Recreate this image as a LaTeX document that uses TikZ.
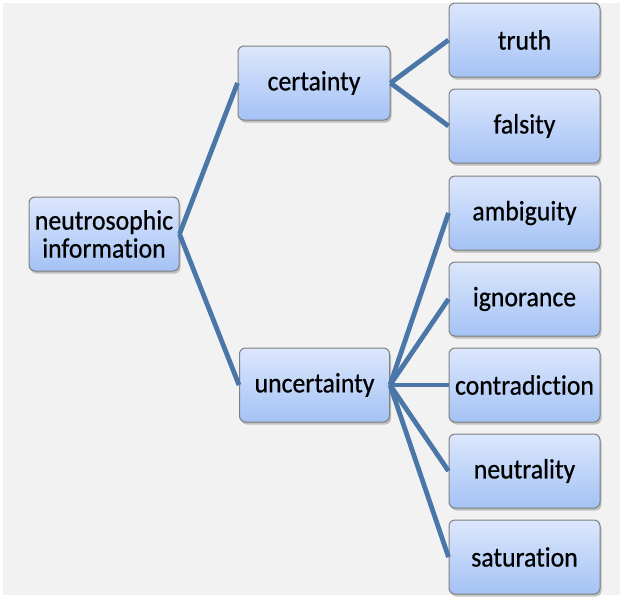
\documentclass[tikz,border=0pt]{standalone}
\usepackage{fontspec}
\setmainfont[FakeStretch=0.92, FakeBold=0.6, Ligatures=NoCommon]{Carlito}
\usetikzlibrary{shadows}
\definecolor{bg}{HTML}{F2F2F2}
\definecolor{boxtop}{HTML}{DCE7FC}
\definecolor{boxbot}{HTML}{A4C2F5}
\definecolor{boxline}{HTML}{7F7F7F}
\definecolor{conn}{HTML}{4A76A8}
\tikzset{
  box/.style={draw=boxline, line width=1pt, rounded corners=6pt,
    top color=boxtop, bottom color=boxbot, inner sep=0pt,
    minimum width=151pt, minimum height=74pt, align=center,
    font=\fontsize{28}{28}\selectfont,
    drop shadow={shadow xshift=1.5pt, shadow yshift=-2.5pt, fill=black!45, opacity=0.5}},
  link/.style={draw=conn, line width=4.8pt}
}
\begin{document}
\begin{tikzpicture}[x=1pt,y=-1pt]
\useasboundingbox (0,0) rectangle (620,598);
\fill[bg] (3,3) rectangle (620,595);
\node[box, minimum width=150pt] (root) at (104,234) {neutrosophic\\information};
\node[box, minimum width=152pt] (cert) at (314,83) {certainty};
\node[box, minimum width=150pt] (unc) at (314.5,385) {uncertainty};
\node[box] (truth) at (524.5,40) {truth};
\node[box] (fals) at (524.5,126) {falsity};
\node[box] (amb) at (524.5,213) {ambiguity};
\node[box] (ign) at (524.5,299) {ignorance};
\node[box] (contr) at (524.5,385) {contradiction};
\node[box] (neut) at (524.5,471) {neutrality};
\node[box] (sat) at (524.5,557) {saturation};
\draw[link] (root.east) -- (cert.west);
\draw[link] (root.east) -- (unc.west);
\draw[link] (cert.east) -- (truth.west);
\draw[link] (cert.east) -- (fals.west);
\draw[link] (unc.east) -- (amb.west);
\draw[link] (unc.east) -- (ign.west);
\draw[link] (unc.east) -- (contr.west);
\draw[link] (unc.east) -- (neut.west);
\draw[link] (unc.east) -- (sat.west);
\end{tikzpicture}
\end{document}
